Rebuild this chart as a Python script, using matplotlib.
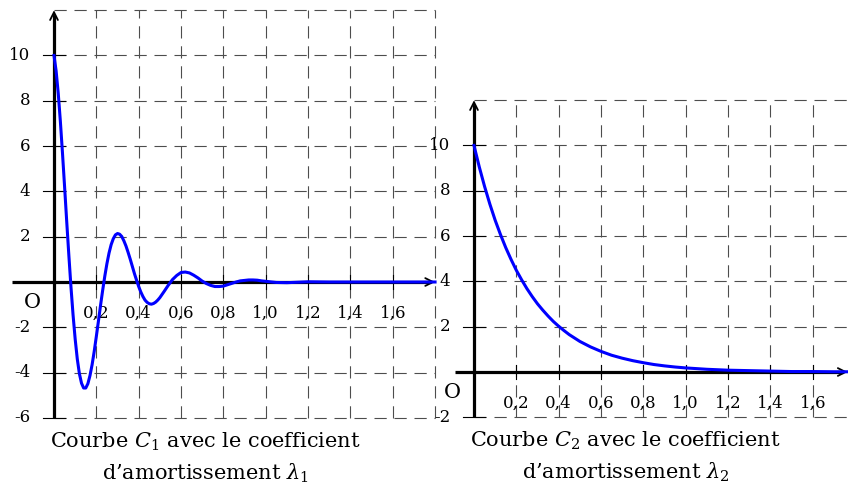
import numpy as np
import matplotlib
matplotlib.use("Agg")
import matplotlib.pyplot as plt

plt.rcParams['font.family'] = ['DejaVu Serif']
plt.rcParams['mathtext.fontset'] = 'dejavuserif'

# Courbe C1 (oscillations amorties)
t1 = [0.00, 0.01, 0.02, 0.03, 0.04, 0.05, 0.06, 0.07, 0.08, 0.09,
      0.10, 0.11, 0.12, 0.13, 0.14, 0.15, 0.16, 0.17, 0.18, 0.19,
      0.20, 0.21, 0.22, 0.23, 0.24, 0.25, 0.26, 0.27, 0.28, 0.29,
      0.30, 0.31, 0.32, 0.33, 0.34, 0.35, 0.36, 0.37, 0.38, 0.39,
      0.40, 0.41, 0.42, 0.43, 0.44, 0.45, 0.46, 0.47, 0.48, 0.49,
      0.50, 0.52, 0.54, 0.56, 0.58,
      0.60, 0.62, 0.64, 0.66, 0.68, 0.70, 0.72, 0.74, 0.76, 0.78,
      0.80, 0.82, 0.84, 0.86, 0.88, 0.90, 0.92, 0.94, 0.96, 0.98,
      1.00, 1.05, 1.10, 1.20, 1.30, 1.40, 1.50, 1.60, 1.70, 1.80]
y1 = [10.0, 9.32, 8.33, 7.10, 5.70, 4.21, 2.68, 1.20, -0.20, -1.45,
      -2.52, -3.40, -4.05, -4.47, -4.68, -4.68, -4.49, -4.13, -3.65, -3.06,
      -2.40, -1.72, -1.02, -0.36, 0.26, 0.81, 1.28, 1.65, 1.91, 2.08,
      2.14, 2.11, 2.01, 1.82, 1.59, 1.31, 1.01, 0.69, 0.37, 0.08,
      -0.20, -0.44, -0.64, -0.80, -0.90, -0.96, -0.98, -0.95, -0.89, -0.80,
      -0.69, -0.42, -0.14, 0.11, 0.29,
      0.42, 0.44, 0.40, 0.30, 0.18, 0.04, -0.07, -0.15, -0.20, -0.20,
      -0.18, -0.12, -0.06, 0.00, 0.05, 0.07, 0.09, 0.09, 0.08, 0.05,
      0.03, -0.02, -0.03, 0.01, 0.00, 0.00, 0.00, 0.00, 0.00, 0.00]

# Courbe C2 (decroissance exponentielle)
t2 = [0.000, 0.025, 0.050, 0.075, 0.100, 0.125, 0.150, 0.175, 0.200,
      0.225, 0.250, 0.275, 0.300, 0.325, 0.350, 0.375, 0.400, 0.425,
      0.450, 0.475, 0.50, 0.55, 0.60, 0.65, 0.70, 0.75, 0.80, 0.85,
      0.90, 0.95, 1.00, 1.10, 1.20, 1.30, 1.40, 1.50, 1.60, 1.70, 1.80]
y2 = [10.0, 9.05, 8.19, 7.41, 6.70, 6.07, 5.49, 4.97, 4.49,
      4.07, 3.68, 3.33, 3.01, 2.73, 2.47, 2.23, 2.02, 1.83,
      1.65, 1.50, 1.35, 1.11, 0.91, 0.74, 0.61, 0.50, 0.41, 0.33,
      0.27, 0.22, 0.18, 0.12, 0.08, 0.06, 0.04, 0.02, 0.02, 0.01, 0.01]

xticks = [0.2, 0.4, 0.6, 0.8, 1.0, 1.2, 1.4, 1.6]
xlabels = ['0,2', '0,4', '0,6', '0,8', '1,0', '1,2', '1,4', '1,6']
ygrid1 = [-6, -4, -2, 2, 4, 6, 8, 10, 12]
ylab1 = [-6, -4, -2, 2, 4, 6, 8, 10]
ygrid2 = [-2, 2, 4, 6, 8, 10, 12]
ylab2 = [-2, 2, 4, 6, 8, 10]
xgrid = [0.2, 0.4, 0.6, 0.8, 1.0, 1.2, 1.4, 1.6, 1.8]

W, H = 848, 486
SX, SY = 211.7, 22.65   # pixels par unite

fig = plt.figure(figsize=(W / 100, H / 100), dpi=100)


def make_axes(ox, oy, xlim, ylim):
    l = ox + xlim[0] * SX
    r = ox + xlim[1] * SX
    t = oy - ylim[1] * SY
    b = oy - ylim[0] * SY
    ax = fig.add_axes([l / W, 1 - b / H, (r - l) / W, (b - t) / H])
    ax.set_xlim(*xlim)
    ax.set_ylim(*ylim)
    ax.axis('off')
    return ax


grid_kw = dict(color='0.3', lw=0.8, dashes=(11, 7), zorder=1)


def panel(ax, t, y, ymin, ygrid, ylab, xend, title):
    # quadrillage
    for gx in xgrid:
        ax.plot([gx, gx], [ymin, 12], **grid_kw)
    for gy in ygrid:
        ax.plot([0, 1.8 if xend <= 1.8 else 2.0], [gy, gy], **grid_kw)
    # graduations
    for gy in ylab:
        ax.plot([-0.05, 0.05], [gy, gy], color='black', lw=0.8, zorder=2)
        ax.text(-0.113, gy, str(gy), ha='right', va='center', fontsize=12)
    for gx, lab in zip(xticks, xlabels):
        ax.plot([gx, gx], [-0.3, 0.3], color='black', lw=0.8, zorder=2)
        ax.text(gx, -1.4, lab, ha='center', va='center', fontsize=12)
    # axes
    ax.plot([0, 0], [ymin, 11.8], color='black', lw=2.3, zorder=3,
            solid_capstyle='butt')
    ax.annotate('', xy=(0, 12), xytext=(0, 11.3),
                arrowprops=dict(arrowstyle='->', lw=1.3, color='black',
                                mutation_scale=14, shrinkA=0, shrinkB=0),
                zorder=3)
    ax.plot([-0.2 if ymin < -3 else -0.09, xend - 0.02], [0, 0],
            color='black', lw=2.3, zorder=3, solid_capstyle='butt')
    ax.annotate('', xy=(xend, 0), xytext=(xend - 0.06, 0),
                arrowprops=dict(arrowstyle='->', lw=1.3, color='black',
                                mutation_scale=14, shrinkA=0, shrinkB=0),
                zorder=3)
    ax.text(-0.1, -0.9, 'O', ha='center', va='center', fontsize=15)
    # courbe
    ax.plot(t, y, color='#0000ff', lw=2.2, zorder=4)
    ax.text(0.715, ymin - 1.06, title[0], ha='center', va='center',
            fontsize=15)
    ax.text(0.715, ymin - 2.45, title[1], ha='center', va='center',
            fontsize=15)


ax1 = make_axes(54, 282, (-0.26, 1.86), (-6.4, 12.4))
panel(ax1, t1, y1, -6, ygrid1, ylab1, 1.8,
      ['Courbe $C_1$ avec le coefficient', 'd’amortissement $\\lambda_1$'])

ax2 = make_axes(474, 372, (-0.26, (W - 474) / SX), (-2.4, 12.4))
panel(ax2, t2, y2, -2, ygrid2, ylab2, 1.765,
      ['Courbe $C_2$ avec le coefficient', 'd’amortissement $\\lambda_2$'])

fig.savefig('out.png', dpi=100)
